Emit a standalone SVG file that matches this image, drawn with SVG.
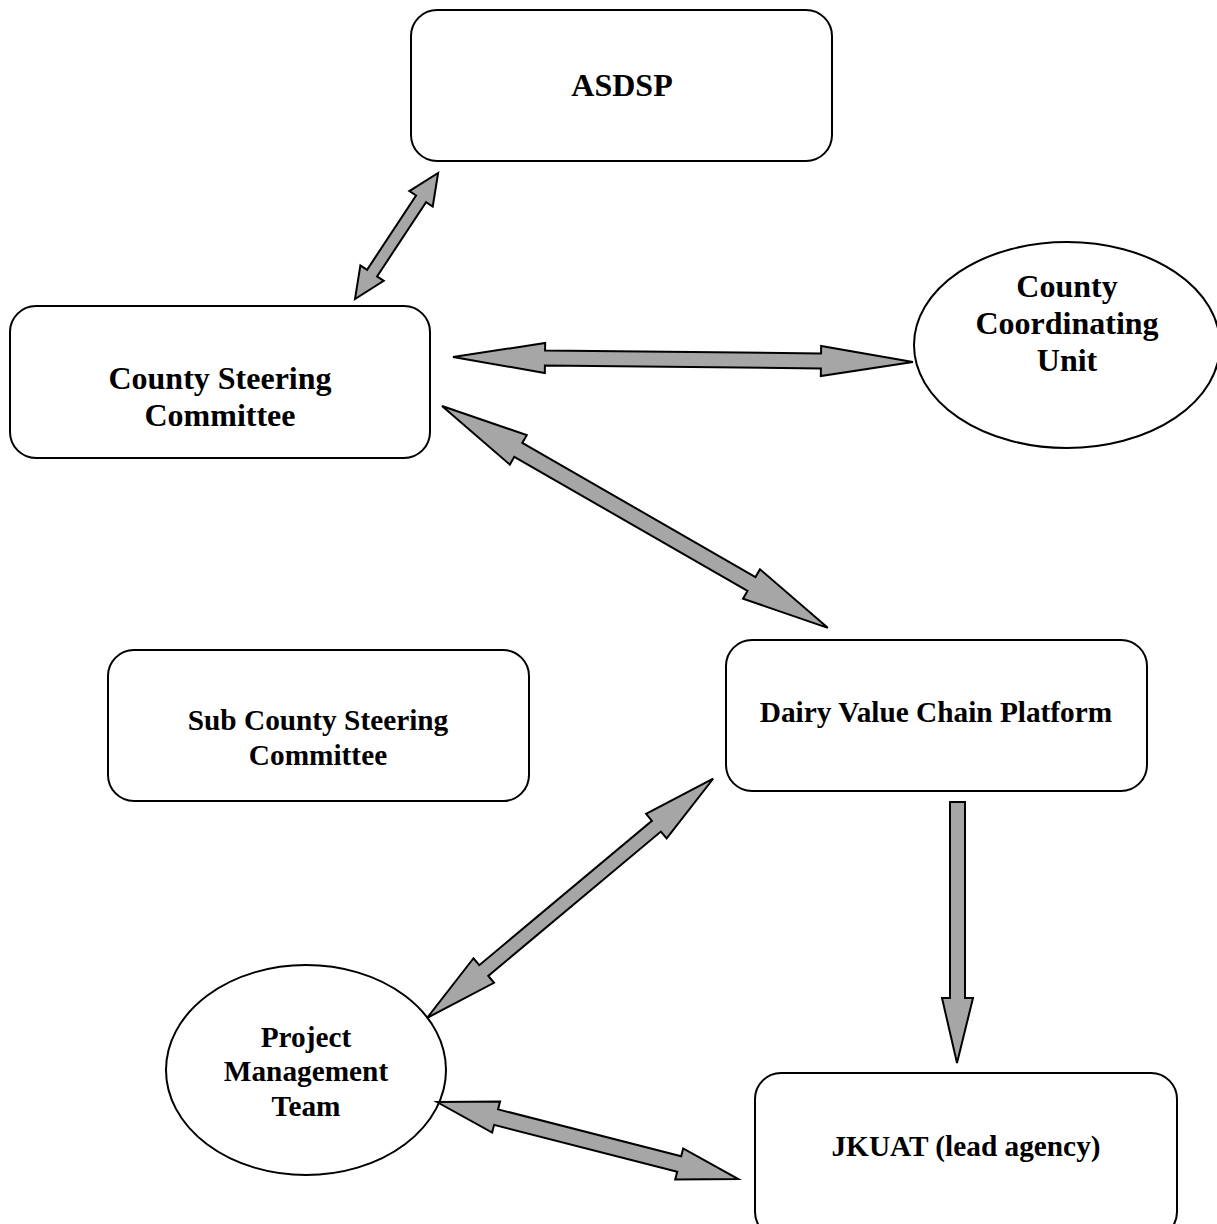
<svg xmlns="http://www.w3.org/2000/svg" width="1217" height="1224" viewBox="0 0 1217 1224">
<style>
.box{fill:#fff;stroke:#000;stroke-width:2}
.arr{fill:#a6a6a6;stroke:#000;stroke-width:2;stroke-linejoin:miter}
.t{font-family:"Liberation Serif","Times New Roman",serif;font-weight:bold;text-anchor:middle;fill:#000}
.big{font-size:32px}
.sm{font-size:29.3px}
</style>
<rect width="1217" height="1224" fill="#fff"/>
<g id="asdsp"><rect class="box" x="411" y="10" width="421" height="151" rx="26"/><text class="t big" x="622" y="96">ASDSP</text></g>
<g id="csc"><rect class="box" x="10" y="306" width="420" height="152" rx="26"/><text class="t big" x="220" y="389">County Steering</text><text class="t big" x="220" y="426">Committee</text></g>
<g id="ccu"><ellipse class="box" cx="1067" cy="345" rx="153" ry="103"/><text class="t big" x="1067" y="297">County</text><text class="t big" x="1067" y="334">Coordinating</text><text class="t big" x="1067" y="371">Unit</text></g>
<g id="subcsc"><rect class="box" x="108" y="650" width="421" height="151" rx="26"/><text class="t sm" x="318" y="730">Sub County Steering</text><text class="t sm" x="318" y="765">Committee</text></g>
<g id="dvcp"><rect class="box" x="726" y="640" width="421" height="151" rx="26"/><text class="t sm" x="936" y="722">Dairy Value Chain Platform</text></g>
<g id="pmt"><ellipse class="box" cx="306" cy="1070" rx="140" ry="105"/><text class="t sm" x="306" y="1047">Project</text><text class="t sm" x="306" y="1081">Management</text><text class="t sm" x="306" y="1116">Team</text></g>
<g id="jkuat"><rect class="box" x="755" y="1073" width="422" height="165" rx="26"/><text class="t sm" x="966" y="1156">JKUAT (lead agency)</text></g>
<g id="connectors">
<polygon class="arr" transform="translate(355,299) rotate(-56.6)" points="0,0 31,-14 31,-6 120,-6 120,-14 151,0 120,14 120,6 31,6 31,14"/>
<polygon class="arr" transform="translate(453,357) rotate(0.62)" points="0,0 92,-15 92,-7.5 368,-7.5 368,-15 460,0 368,15 368,7.5 92,7.5 92,15"/>
<polygon class="arr" transform="translate(442,406) rotate(29.9)" points="0,0 88,-17 88,-8 357,-8 357,-17 445,0 357,17 357,8 88,8 88,17"/>
<polygon class="arr" transform="translate(427,1018) rotate(-39.9)" points="0,0 74,-16 74,-7 299,-7 299,-16 373,0 299,16 299,7 74,7 74,16"/>
<polygon class="arr" transform="translate(437,1102) rotate(14.35)" points="0,0 61,-16 61,-8 250,-8 250,-16 311,0 250,16 250,8 61,8 61,16"/>
<polygon class="arr" points="950,802 965,802 965,998 973,998 957,1063 942,998 950,998"/>
</g>
</svg>
